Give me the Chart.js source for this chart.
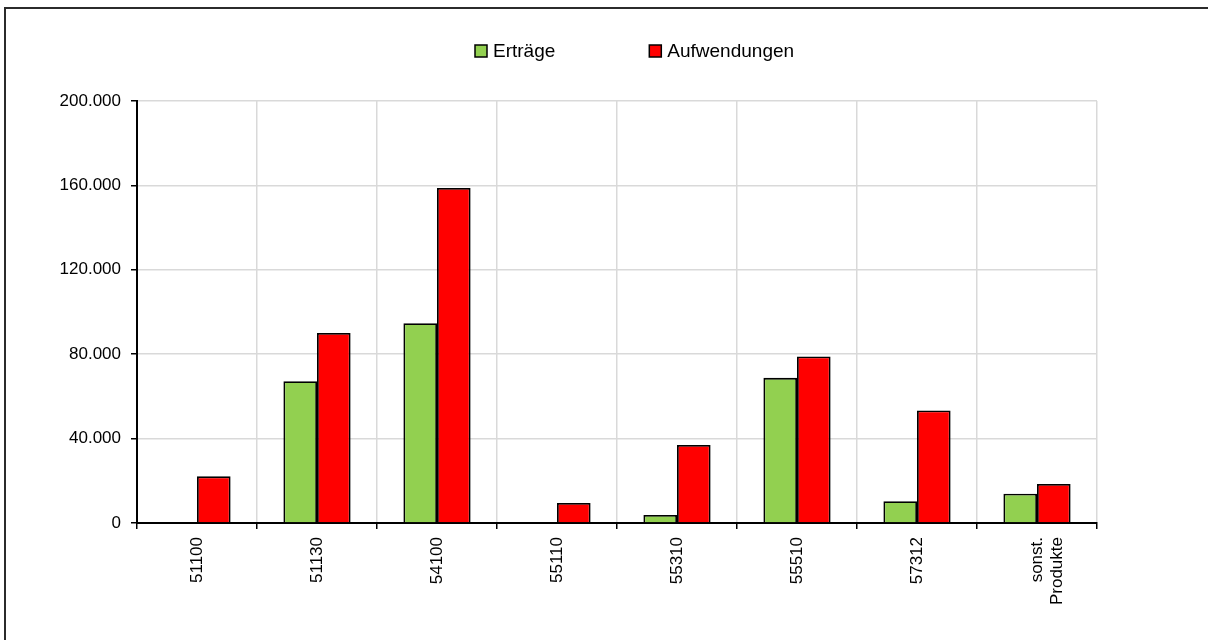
<!DOCTYPE html>
<html lang="de">
<head>
<meta charset="utf-8">
<title>Erträge und Aufwendungen nach Produkten</title>
<script src="https://cdn.jsdelivr.net/npm/chart.js@4.4.1/dist/chart.umd.min.js"></script>
<style>
  html, body { margin: 0; padding: 0; background: #fff; overflow: hidden; width: 1208px; height: 640px; }
  #frame {
    position: absolute; left: 4px; top: 7px;
    width: 1204px; height: 633px;
    border-left: 2px solid #2b2b2b; border-top: 2px solid #2b2b2b;
    border-right: none; border-bottom: none;
    box-sizing: border-box;
  }
  #wrap { position: absolute; left: 0; top: 0; width: 1208px; height: 640px; }
</style>
</head>
<body>
<div id="frame"></div>
<div id="wrap"><canvas id="chart" width="1208" height="640"></canvas></div>
<script>
// Produkte (Kategorien)
const categories = ['51100', '51130', '54100', '55110', '55310', '55510', '57312', ['sonst.', 'Produkte']];

// Beträge in Euro
const ertraege      = [0, 67200, 94700, 0, 3800, 68800, 10300, 13900];
const aufwendungen  = [22100, 90100, 158800, 9500, 37000, 78900, 53300, 18500];

// Achsenskala
const yTicks = [0, 40000, 80000, 120000, 160000, 200000];

const seriesNames  = ['Erträge', 'Aufwendungen'];
const seriesColors = ['#92D050', '#FF0000'];

const FONT = '"Liberation Sans", Arial, sans-serif';

function formatDe(v) {
  return String(Math.round(v)).replace(/\B(?=(\d{3})+(?!\d))/g, '.');
}

// Legende oberhalb des Diagramms
const legendPlugin = {
  id: 'topLegend',
  afterDraw(chart) {
    const ctx = chart.ctx;
    ctx.save();
    ctx.font = '19px ' + FONT;
    ctx.textBaseline = 'middle';
    const box = 12, gap = 6, spacing = 94;
    const items = chart.data.datasets.map(ds => ({
      label: ds.label, color: ds.backgroundColor,
      w: box + gap + ctx.measureText(ds.label).width
    }));
    const total = items.reduce((s, it) => s + it.w, 0) + spacing * (items.length - 1);
    let x = Math.round(635 - total / 2);
    const y = 51;
    items.forEach(it => {
      ctx.fillStyle = it.color;
      ctx.fillRect(x, y - box / 2, box, box);
      ctx.lineWidth = 1.5;
      ctx.strokeStyle = '#000';
      ctx.strokeRect(x, y - box / 2, box, box);
      ctx.fillStyle = '#000';
      ctx.fillText(it.label, x + box + gap, y + 1);
      x += it.w + spacing;
    });
    ctx.restore();
  }
};

new Chart(document.getElementById('chart'), {
  type: 'bar',
  data: {
    labels: categories,
    datasets: [
      { label: seriesNames[0], data: ertraege, backgroundColor: seriesColors[0] },
      { label: seriesNames[1], data: aufwendungen, backgroundColor: seriesColors[1] }
    ]
  },
  options: {
    responsive: false,
    animation: false,
    devicePixelRatio: 1,
    layout: { padding: { top: 101, right: 111, left: 0, bottom: 0 } },
    datasets: {
      bar: {
        categoryPercentage: 0.56,
        barPercentage: 1.0,
        borderColor: '#000',
        borderWidth: 1.8,
        borderSkipped: 'start'
      }
    },
    plugins: {
      legend: { display: false },
      tooltip: { enabled: false }
    },
    scales: {
      x: {
        grid: {
          offset: true,
          color: '#D9D9D9',
          lineWidth: 1.5,
          drawTicks: true,
          tickLength: 6,
          tickColor: '#000',
          tickWidth: 1.5
        },
        border: { display: true, color: '#000', width: 2 },
        ticks: {
          minRotation: 90,
          maxRotation: 90,
          autoSkip: false,
          padding: 8,
          color: '#000',
          font: { family: FONT, size: 17 }
        },
        afterFit(scale) { scale.height = 117; }
      },
      y: {
        min: 0,
        max: 200000,
        afterBuildTicks(scale) { scale.ticks = yTicks.map(v => ({ value: v })); },
        grid: {
          color: '#D9D9D9',
          lineWidth: 1.5,
          drawTicks: true,
          tickLength: 6,
          tickColor: '#000',
          tickWidth: 1.5
        },
        border: { display: true, color: '#000', width: 2 },
        ticks: {
          padding: 10,
          color: '#000',
          font: { family: FONT, size: 17 },
          callback: v => formatDe(v)
        },
        afterFit(scale) { scale.width = 137; }
      }
    }
  },
  plugins: [legendPlugin]
});
</script>
</body>
</html>
